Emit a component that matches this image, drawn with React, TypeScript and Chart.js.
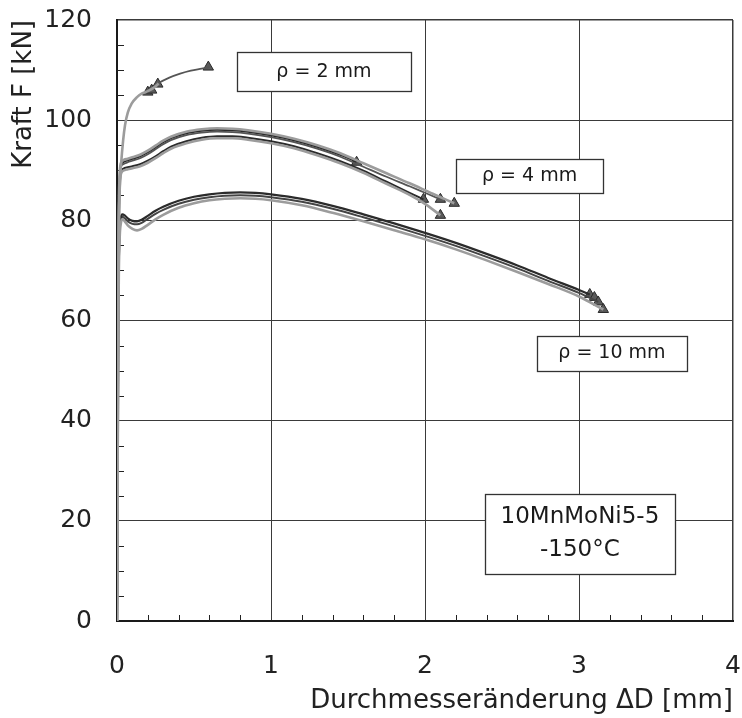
import React, { useEffect, useRef } from "react";
import { Chart, registerables } from "chart.js";
Chart.register(...registerables);

const FONT = "'DejaVu Sans', 'Liberation Sans', Arial, sans-serif";

// Axis ticks
const xTicks = [0, 1, 2, 3, 4];
const yTicks = [0, 20, 40, 60, 80, 100, 120];

// rho = 2 mm
const r2aX = [0, 0.004, 0.008, 0.012, 0.018, 0.026, 0.04, 0.052, 0.07, 0.095, 0.13, 0.16, 0.2, 0.24, 0.27];
const r2aY = [0, 30, 60, 78, 87, 91, 96, 99, 101.5, 103.3, 104.6, 105.3, 105.8, 106.5, 107.3];
const r2bX = [0.2, 0.27, 0.34, 0.41, 0.48, 0.55, 0.6];
const r2bY = [105.8, 107.4, 108.5, 109.3, 109.9, 110.3, 110.6];

// rho = 4 mm
const r4aX = [0, 0.004, 0.008, 0.012, 0.018, 0.025, 0.04, 0.07, 0.1, 0.15, 0.2, 0.25, 0.3, 0.35, 0.45, 0.55, 0.65, 0.75, 0.85, 1.0, 1.15, 1.3, 1.45, 1.556];
const r4aY = [0, 35, 65, 82, 89, 91, 91.6, 92, 92.3, 92.8, 93.6, 94.6, 95.6, 96.4, 97.4, 97.9, 98.1, 98.0, 97.7, 97.0, 96.0, 94.7, 93.1, 91.7];
const r4bX = [0, 0.004, 0.008, 0.012, 0.018, 0.025, 0.04, 0.07, 0.1, 0.15, 0.2, 0.25, 0.3, 0.35, 0.45, 0.55, 0.65, 0.75, 0.85, 1.0, 1.15, 1.3, 1.45, 1.6, 1.75, 1.9, 2.05, 2.19];
const r4bY = [0, 35, 66, 83, 89.5, 91.4, 92.0, 92.3, 92.6, 93.1, 93.9, 94.9, 95.9, 96.7, 97.7, 98.2, 98.4, 98.3, 98.0, 97.3, 96.3, 95.0, 93.4, 91.4, 89.4, 87.4, 85.3, 83.4];
const r4cX = [0, 0.004, 0.008, 0.012, 0.018, 0.025, 0.04, 0.07, 0.1, 0.15, 0.2, 0.25, 0.3, 0.35, 0.45, 0.55, 0.65, 0.75, 0.85, 1.0, 1.15, 1.3, 1.45, 1.6, 1.75, 1.9, 2.0, 2.1];
const r4cY = [0, 34, 64, 81, 88.5, 90.6, 91.2, 91.6, 91.9, 92.4, 93.2, 94.2, 95.2, 96.0, 97.0, 97.5, 97.7, 97.6, 97.3, 96.6, 95.6, 94.3, 92.7, 90.7, 88.7, 86.8, 85.5, 84.2];
const r4dX = [0, 0.004, 0.008, 0.012, 0.018, 0.025, 0.04, 0.07, 0.1, 0.15, 0.2, 0.25, 0.3, 0.35, 0.45, 0.55, 0.65, 0.75, 0.85, 1.0, 1.15, 1.3, 1.45, 1.6, 1.75, 1.9, 1.99];
const r4dY = [0, 34, 63, 80, 87, 89.6, 90.3, 90.6, 90.8, 91.2, 91.9, 92.8, 93.8, 94.7, 95.8, 96.5, 96.8, 96.8, 96.5, 95.8, 94.8, 93.4, 91.8, 89.9, 87.7, 85.5, 84.2];
const r4eX = [0, 0.004, 0.008, 0.012, 0.018, 0.025, 0.04, 0.07, 0.1, 0.15, 0.2, 0.25, 0.3, 0.35, 0.45, 0.55, 0.65, 0.75, 0.85, 1.0, 1.15, 1.3, 1.45, 1.6, 1.75, 1.9, 2.0, 2.1];
const r4eY = [0, 33, 62, 79, 86.5, 89.2, 89.9, 90.2, 90.4, 90.8, 91.5, 92.4, 93.4, 94.3, 95.4, 96.1, 96.4, 96.4, 96.1, 95.4, 94.4, 93.0, 91.4, 89.5, 87.3, 85.1, 83.3, 81.0];

// rho = 10 mm
const r10aX = [0, 0.004, 0.008, 0.012, 0.018, 0.025, 0.035, 0.05, 0.07, 0.1, 0.13, 0.16, 0.2, 0.25, 0.3, 0.4, 0.5, 0.6, 0.7, 0.8, 0.9, 1.0, 1.2, 1.4, 1.6, 1.8, 2.0, 2.2, 2.4, 2.6, 2.8, 3.0, 3.07];
const r10aY = [0, 32, 58, 72, 78.5, 80.6, 81.2, 81.0, 80.4, 79.9, 79.8, 80.1, 80.9, 81.9, 82.7, 83.9, 84.7, 85.2, 85.5, 85.6, 85.5, 85.2, 84.3, 82.9, 81.2, 79.4, 77.5, 75.5, 73.3, 71.0, 68.5, 66.1, 65.2];
const r10bX = [0, 0.004, 0.008, 0.012, 0.018, 0.025, 0.035, 0.05, 0.07, 0.1, 0.13, 0.16, 0.2, 0.25, 0.3, 0.4, 0.5, 0.6, 0.7, 0.8, 0.9, 1.0, 1.2, 1.4, 1.6, 1.8, 2.0, 2.2, 2.4, 2.6, 2.8, 3.0, 3.125];
const r10bY = [0, 31, 57, 71, 78, 80.2, 80.7, 80.4, 79.8, 79.3, 79.2, 79.5, 80.3, 81.3, 82.1, 83.3, 84.1, 84.6, 84.9, 85.0, 84.9, 84.6, 83.7, 82.3, 80.6, 78.8, 76.9, 74.9, 72.7, 70.4, 67.9, 65.5, 63.7];
const r10cX = [0, 0.004, 0.008, 0.012, 0.018, 0.025, 0.035, 0.05, 0.07, 0.1, 0.13, 0.16, 0.2, 0.25, 0.3, 0.4, 0.5, 0.6, 0.7, 0.8, 0.9, 1.0, 1.2, 1.4, 1.6, 1.8, 2.0, 2.2, 2.4, 2.6, 2.8, 3.0, 3.158];
const r10cY = [0, 30, 56, 70, 77, 79.4, 80.2, 79.8, 79.0, 78.3, 78.0, 78.3, 79.1, 80.2, 81.1, 82.5, 83.4, 84.0, 84.3, 84.4, 84.3, 84.0, 83.0, 81.5, 79.8, 78.0, 76.2, 74.2, 72.0, 69.7, 67.3, 64.8, 62.2];

// Fracture points (triangles)
const fracX = [0.2, 0.225, 0.265, 0.593, 1.556, 1.99, 2.1, 2.19, 2.1, 3.07, 3.1, 3.125, 3.158];
const fracY = [105.6, 106.0, 107.2, 110.6, 91.6, 84.2, 84.2, 83.4, 81.0, 65.2, 64.6, 63.7, 62.2];

// Labels (anchored in data units)
const labelTexts = [["ρ = 2 mm"], ["ρ = 4 mm"], ["ρ = 10 mm"], ["10MnMoNi5-5", "-150°C"]];
const labelX = [1.344, 2.679, 3.214, 3.006];
const labelY = [109.7, 88.8, 53.4, 17.4];

const DARK = "#2b2b2b";
const GRAY = "#9c9c9c";

export default function App() {
  const ref = useRef<HTMLCanvasElement>(null);
  useEffect(() => {
    document.body.style.margin = "0";
    document.body.style.background = "#ffffff";
    const canvas = ref.current!;
    const pts = (xs: number[], ys: number[]) => xs.map((x, i) => ({ x, y: ys[i] }));
    const line = (xs: number[], ys: number[], color: string, width: number) => ({
      data: pts(xs, ys),
      borderColor: color,
      backgroundColor: color,
      borderWidth: width,
      pointRadius: 0,
      showLine: true,
      fill: false,
      cubicInterpolationMode: "monotone" as const,
    });

    const datasets: any[] = [
      line(r2aX, r2aY, GRAY, 2.6),
      line(r2bX, r2bY, "#555", 1.8),
      line(r4bX, r4bY, GRAY, 2.6),
      line(r4eX, r4eY, GRAY, 2.6),
      line(r4aX, r4aY, DARK, 2),
      line(r4cX, r4cY, "#555", 1.8),
      line(r4dX, r4dY, DARK, 2),
      line(r10cX, r10cY, GRAY, 2.6),
      line(r10aX, r10aY, DARK, 2.2),
      line(r10bX, r10bY, "#444", 2),
      {
        data: pts(fracX, fracY),
        showLine: false,
        pointStyle: "triangle",
        pointRadius: 6,
        pointBackgroundColor: "#5a5a5a",
        pointBorderColor: "#2a2a2a",
        pointBorderWidth: 1,
      },
    ];

    const minorTicks = {
      id: "minorTicks",
      beforeDatasetsDraw(chart: any) {
        const { ctx, scales } = chart;
        const xs = scales.x, ys = scales.y;
        ctx.save();
        ctx.strokeStyle = "#222";
        ctx.lineWidth = 1;
        for (let v = 5; v < 120; v += 5) {
          if (v % 20 === 0) continue;
          const py = Math.round(ys.getPixelForValue(v)) + 0.5;
          ctx.beginPath();
          ctx.moveTo(xs.left, py);
          ctx.lineTo(xs.left + 7, py);
          ctx.stroke();
        }
        for (let k = 1; k < 20; k++) {
          if (k % 5 === 0) continue;
          const px = Math.round(xs.getPixelForValue(k * 0.2)) + 0.5;
          ctx.beginPath();
          ctx.moveTo(px, ys.bottom);
          ctx.lineTo(px, ys.bottom - 6);
          ctx.stroke();
        }
        ctx.restore();
      },
    };

    const boxSizes = [
      [174, 39, 19],
      [147, 34, 19],
      [150, 35, 19],
      [190, 80, 23],
    ];

    const labels = {
      id: "labels",
      afterDatasetsDraw(chart: any) {
        const { ctx, scales } = chart;
        ctx.save();
        labelTexts.forEach((lines, i) => {
          const cx = scales.x.getPixelForValue(labelX[i]);
          const cy = scales.y.getPixelForValue(labelY[i]);
          const [w, h, fs] = boxSizes[i];
          const l = Math.round(cx - w / 2) + 0.5;
          const t = Math.round(cy - h / 2) + 0.5;
          ctx.fillStyle = "#ffffff";
          ctx.fillRect(l, t, w, h);
          ctx.strokeStyle = "#333";
          ctx.lineWidth = 1.3;
          ctx.strokeRect(l, t, w, h);
          ctx.fillStyle = "#1a1a1a";
          ctx.font = `${fs}px ${FONT}`;
          ctx.textAlign = "center";
          ctx.textBaseline = "middle";
          const lh = 33;
          lines.forEach((s, j) => {
            ctx.fillText(s, cx, cy + (j - (lines.length - 1) / 2) * lh);
          });
        });
        ctx.restore();
      },
    };

    const chart = new Chart(canvas, {
      type: "scatter",
      data: { datasets },
      options: {
        animation: false,
        responsive: false,
        events: [],
        layout: { padding: { top: 20, right: 9, left: 0, bottom: 0 } },
        plugins: { legend: { display: false }, tooltip: { enabled: false } },
        scales: {
          x: {
            type: "linear",
            min: xTicks[0],
            max: xTicks[xTicks.length - 1],
            afterBuildTicks: (s: any) => { s.ticks = xTicks.map((v) => ({ value: v })); },
            afterFit: (s: any) => {
              s.height = 97;
              s.paddingLeft = 0; s.paddingRight = 0; s.paddingTop = 0; s.paddingBottom = 0;
            },
            ticks: { color: "#222", font: { family: FONT, size: 25 }, padding: 30, maxRotation: 0 },
            grid: { color: "#3a3a3a", lineWidth: (c: any) => (c.tick && c.tick.value === 4 ? 1.5 : 1), drawTicks: false },
            border: { color: "#1a1a1a", width: 2 },
            title: {
              display: true,
              text: "Durchmesseränderung ΔD [mm]",
              align: "end",
              color: "#222",
              font: { family: FONT, size: 26 },
              padding: { top: 0, bottom: 1 },
            },
          },
          y: {
            type: "linear",
            min: yTicks[0],
            max: yTicks[yTicks.length - 1],
            afterBuildTicks: (s: any) => { s.ticks = yTicks.map((v) => ({ value: v })); },
            afterFit: (s: any) => {
              s.width = 117;
              s.paddingLeft = 0; s.paddingRight = 0; s.paddingTop = 0; s.paddingBottom = 0;
            },
            ticks: { color: "#222", font: { family: FONT, size: 25 }, padding: 25 },
            grid: { color: "#3a3a3a", lineWidth: (c: any) => (c.tick && c.tick.value === 120 ? 1.5 : 1), drawTicks: false },
            border: { color: "#1a1a1a", width: 2 },
            title: {
              display: true,
              text: "Kraft F [kN]",
              align: "end",
              color: "#222",
              font: { family: FONT, size: 26 },
              padding: { top: 9, bottom: 0 },
            },
          },
        },
      } as any,
      plugins: [minorTicks, labels],
    });
    return () => chart.destroy();
  }, []);
  return <canvas ref={ref} width={742} height={718} style={{ display: "block" }} />;
}
